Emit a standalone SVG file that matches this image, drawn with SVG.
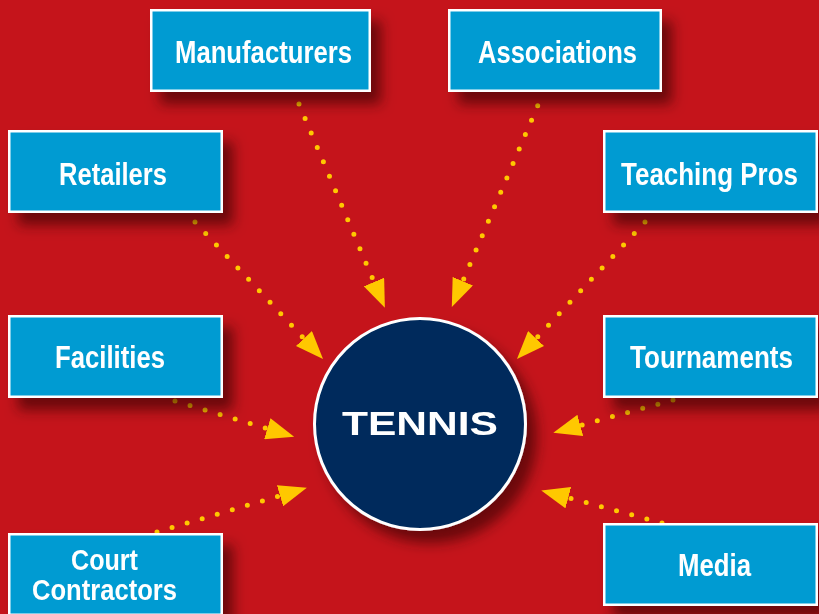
<svg xmlns="http://www.w3.org/2000/svg" width="819" height="614" viewBox="0 0 819 614">
  <defs>
    <style>
      .box { fill: #009bd2; stroke: #ffffff; stroke-width: 2.5; }
      .lbl { font-family: "Liberation Sans", Arial, sans-serif; font-weight: bold; font-size: 31px; fill: #ffffff; text-anchor: middle; }
      .lbl2 { font-size: 29px; }
      .dot { fill: none; stroke: #ffc800; stroke-width: 5; stroke-linecap: round; stroke-dasharray: 0 15.7; marker-end: url(#ah); }
      .shadowed { filter: url(#sh); }
    </style>
    <filter id="sh" x="-20%" y="-20%" width="150%" height="170%">
      <feDropShadow dx="10" dy="12" stdDeviation="6.5" flood-color="#2a0000" flood-opacity="0.6"/>
    </filter>
    <marker id="ah" markerUnits="userSpaceOnUse" viewBox="0 0 28 22" markerWidth="28" markerHeight="22" refX="0" refY="11" orient="auto">
      <path d="M0,0 L28,11 L0,22 Z" fill="#ffc800"/>
    </marker>
  </defs>
  <rect x="0" y="0" width="819" height="614" fill="#c5141b"/>

  <g id="connectors">
    <path class="dot" d="M299,104 L374,282"/>
    <path class="dot" d="M537.7,105.7 L462.8,281.2"/>
    <path class="dot" d="M195,222 L303.9,338.5"/>
    <path class="dot" d="M645,222 L536.1,338.5"/>
    <path class="dot" d="M175,401 L267.3,428.7"/>
    <path class="dot" d="M157,532 L280,495.7"/>
    <path class="dot" d="M673,400 L580.3,425.4"/>
    <path class="dot" d="M662,523 L568.3,497.7"/>
  </g>

  <g id="manufacturers" class="shadowed">
    <rect class="box" x="151.25" y="10.25" width="218.5" height="80.5"/>
    <text class="lbl" x="263.5" y="63" textLength="177" lengthAdjust="spacingAndGlyphs">Manufacturers</text>
  </g>
  <g id="associations" class="shadowed">
    <rect class="box" x="449.25" y="10.25" width="211.5" height="80.5"/>
    <text class="lbl" x="557.5" y="63" textLength="159" lengthAdjust="spacingAndGlyphs">Associations</text>
  </g>
  <g id="retailers" class="shadowed">
    <rect class="box" x="9.25" y="131.25" width="212.5" height="80.5"/>
    <text class="lbl" x="113" y="185" textLength="108" lengthAdjust="spacingAndGlyphs">Retailers</text>
  </g>
  <g id="teaching-pros" class="shadowed">
    <rect class="box" x="604.25" y="131.25" width="212.5" height="80.5"/>
    <text class="lbl" x="709.5" y="185" textLength="177" lengthAdjust="spacingAndGlyphs">Teaching Pros</text>
  </g>
  <g id="facilities" class="shadowed">
    <rect class="box" x="9.25" y="316.25" width="212.5" height="80.5"/>
    <text class="lbl" x="110" y="368" textLength="110" lengthAdjust="spacingAndGlyphs">Facilities</text>
  </g>
  <g id="tournaments" class="shadowed">
    <rect class="box" x="604.25" y="316.25" width="212.5" height="80.5"/>
    <text class="lbl" x="711.5" y="368" textLength="163" lengthAdjust="spacingAndGlyphs">Tournaments</text>
  </g>
  <g id="court-contractors" class="shadowed">
    <rect class="box" x="9.25" y="534.25" width="212.5" height="80.5"/>
    <text class="lbl lbl2" x="104.5" y="570" textLength="67" lengthAdjust="spacingAndGlyphs">Court</text>
    <text class="lbl lbl2" x="104.5" y="600" textLength="145" lengthAdjust="spacingAndGlyphs">Contractors</text>
  </g>
  <g id="media" class="shadowed">
    <rect class="box" x="604.25" y="524.25" width="212.5" height="80.5"/>
    <text class="lbl" x="714.5" y="576" textLength="73" lengthAdjust="spacingAndGlyphs">Media</text>
  </g>
  <g id="tennis" class="shadowed">
    <circle cx="420" cy="424" r="105.5" fill="#022b5c" stroke="#ffffff" stroke-width="3"/>
    <text x="420" y="435" font-family="Liberation Sans, Arial, sans-serif" font-weight="bold" font-size="34" fill="#ffffff" text-anchor="middle" textLength="156" lengthAdjust="spacingAndGlyphs">TENNIS</text>
  </g>
</svg>
